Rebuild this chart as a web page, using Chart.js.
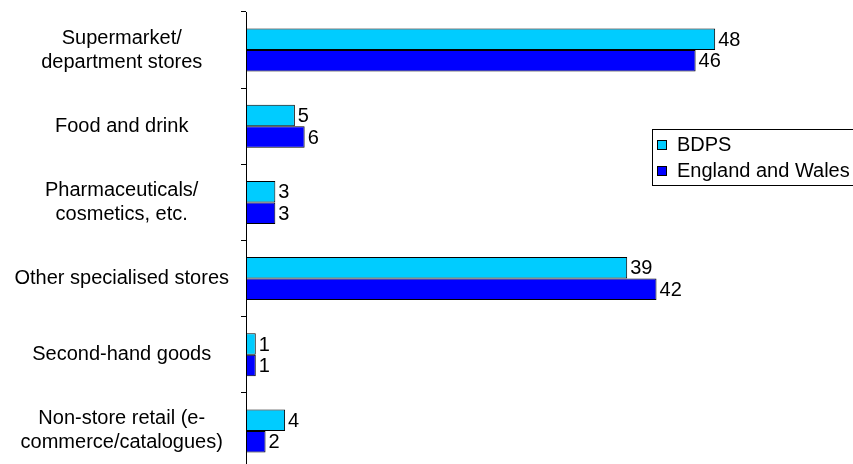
<!DOCTYPE html>
<html>
<head>
<meta charset="utf-8">
<script src="https://cdn.jsdelivr.net/npm/chart.js@4"></script>
<style>
    html, body { margin: 0; padding: 0; background: #fff; overflow: hidden; }
    #wrap { position: relative; width: 853px; height: 470px; }
</style>
</head>
<body>
<div id="wrap"><canvas id="chart"></canvas></div>
<script>
// Categories and values
const categories = [
    ['Supermarket/', 'department stores'],
    'Food and drink',
    ['Pharmaceuticals/', 'cosmetics, etc.'],
    'Other specialised stores',
    'Second-hand goods',
    ['Non-store retail (e-', 'commerce/catalogues)']
];
const seriesNames = ['BDPS', 'England and Wales'];
const bdpsValues = [48, 5, 3, 39, 1, 4];
const englandWalesValues = [46, 6, 3, 42, 1, 2];

const FONT = { family: '"Liberation Sans", Arial, sans-serif', size: 20 };

// value labels at the end of each bar
const valueLabels = {
    id: 'valueLabels',
    afterDatasetsDraw(chart) {
        const ctx = chart.ctx;
        ctx.save();
        ctx.font = FONT.size + 'px ' + FONT.family;
        ctx.fillStyle = '#000';
        ctx.textAlign = 'left';
        ctx.textBaseline = 'middle';
        chart.data.datasets.forEach((ds, i) => {
            chart.getDatasetMeta(i).data.forEach((bar, j) => {
                ctx.fillText(ds.data[j], bar.x + 3, bar.y + 1);
            });
        });
        ctx.restore();
    }
};

// boxed legend like the original
const boxLegend = {
    id: 'boxLegend',
    afterDraw(chart) {
        const ctx = chart.ctx;
        const x = 652, y = 129;
        ctx.save();
        ctx.strokeStyle = '#000';
        ctx.lineWidth = 1;
        ctx.strokeRect(x + 0.5, y + 0.5, 220, 56);
        ctx.font = FONT.size + 'px ' + FONT.family;
        ctx.textBaseline = 'middle';
        chart.data.datasets.forEach((ds, i) => {
            const cy = y + 16 + i * 26;
            ctx.fillStyle = ds.backgroundColor;
            ctx.fillRect(x + 5, cy - 4.5, 9, 9);
            ctx.strokeRect(x + 5.5, cy - 4.5, 9, 9);
            ctx.fillStyle = '#000';
            ctx.fillText(ds.label, x + 25, cy);
        });
        ctx.restore();
    }
};

new Chart(document.getElementById('chart'), {
    type: 'bar',
    data: {
        labels: categories,
        datasets: [
            {
                label: seriesNames[0],
                data: bdpsValues,
                backgroundColor: '#00CCFF',
                borderColor: '#000',
                borderWidth: 1,
                borderSkipped: false
            },
            {
                label: seriesNames[1],
                data: englandWalesValues,
                backgroundColor: '#0000FF',
                borderColor: '#000',
                borderWidth: 1,
                borderSkipped: false
            }
        ]
    },
    options: {
        indexAxis: 'y',
        responsive: true,
        maintainAspectRatio: false,
        animation: false,
        categoryPercentage: 0.565,
        barPercentage: 1,
        layout: { padding: { top: 12, right: 1, bottom: 1, left: 0 } },
        scales: {
            x: {
                display: false,
                min: 0,
                max: 62
            },
            y: {
                afterFit: (scale) => {
                    scale.width = 246;
                    scale.paddingTop = 0;
                    scale.paddingBottom = 0;
                },
                border: { display: true, color: '#000', width: 1 },
                grid: {
                    offset: true,
                    drawOnChartArea: false,
                    drawTicks: true,
                    tickLength: 5,
                    color: '#000'
                },
                ticks: {
                    color: '#000',
                    font: FONT,
                    crossAlign: 'center',
                    padding: 12,
                    autoSkip: false
                }
            }
        },
        plugins: {
            legend: { display: false },
            tooltip: { enabled: false }
        }
    },
    plugins: [valueLabels, boxLegend]
});
</script>
</body>
</html>
